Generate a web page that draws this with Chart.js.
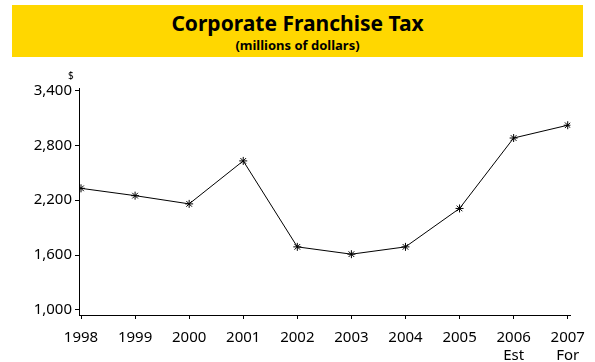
<!DOCTYPE html>
<html>
<head>
<meta charset="utf-8">
<script src="https://cdn.jsdelivr.net/npm/chart.js@4"></script>
<style>
  html, body { margin: 0; padding: 0; background: #fff; }
  #wrap { position: relative; width: 595px; height: 362px; overflow: hidden; }
  #myChart { position: absolute; left: 0; top: 0; }
  .banner { position: absolute; left: 12px; top: 5px; width: 571px; height: 52px; background: #FFD700; }
  .title { position: absolute; left: 12px; width: 571px; text-align: center; color: #000;
           font-family: "Noto Sans", sans-serif; font-weight: bold; }
  .t1 { top: 9px; font-size: 21px; }
  .t2 { top: 36px; font-size: 13px; }
  .unit { position: absolute; left: 68px; top: 68px; font: 10px "Noto Sans", sans-serif; color: #000; }
</style>
</head>
<body>
<div id="wrap">
  <canvas id="myChart" width="595" height="362"></canvas>
  <div class="banner"></div>
  <div class="title t1">Corporate Franchise Tax</div>
  <div class="title t2">(millions of dollars)</div>
  <div class="unit">$</div>
</div>
<script>
// Data
const years = [1998, 1999, 2000, 2001, 2002, 2003, 2004, 2005, 2006, 2007];
const yearNotes = ["", "", "", "", "", "", "", "", "Est", "For"];
const taxValues = [2330, 2250, 2160, 2630, 1690, 1610, 1690, 2110, 2880, 3020];
const yTicks = [1000, 1600, 2200, 2800, 3400];

const points = years.map((yr, i) => ({ x: yr, y: taxValues[i] }));
const tickFont = { family: "Noto Sans", size: 15 };

const config = {
  type: "line",
  data: {
    datasets: [
      {
        label: "Corporate Franchise Tax",
        data: points,
        borderColor: "#000",
        borderWidth: 1,
        pointStyle: "star",
        pointRadius: 4,
        pointBorderColor: "#000",
        pointBorderWidth: 1,
        tension: 0,
      },
    ],
  },
  options: {
    responsive: false,
    animation: false,
    layout: { padding: { top: 88, right: 23, left: 0, bottom: 0 } },
    plugins: {
      legend: { display: false },
      title: { display: false },
      tooltip: { enabled: false },
    },
    scales: {
      x: {
        type: "linear",
        min: 1997.963,
        max: 2007.05,
        afterBuildTicks: (scale) => { scale.ticks = years.map(v => ({ value: v })); },
        afterFit: (scale) => { scale.height = 47; },
        ticks: {
          color: "#000",
          font: tickFont,
          padding: 10,
          maxRotation: 0,
          autoSkip: false,
          callback: (value) => {
            const note = yearNotes[years.indexOf(value)];
            return note ? [String(value), note] : String(value);
          },
        },
        grid: { drawOnChartArea: false, drawTicks: true, tickLength: 4, color: "#000" },
        border: { display: true, color: "#000", width: 1 },
      },
      y: {
        min: 945,
        max: 3427,
        afterBuildTicks: (scale) => { scale.ticks = yTicks.map(v => ({ value: v })); },
        afterFit: (scale) => { scale.width = 79; },
        ticks: {
          color: "#000",
          font: tickFont,
          padding: 3,
          callback: (value) => value.toLocaleString("en-US"),
        },
        grid: { drawOnChartArea: false, drawTicks: true, tickLength: 4, color: "#000" },
        border: { display: true, color: "#000", width: 1 },
      },
    },
  },
};

// Plotting
const ctx = document.getElementById("myChart").getContext("2d");
const taxChart = new Chart(ctx, config);
</script>
</body>
</html>
